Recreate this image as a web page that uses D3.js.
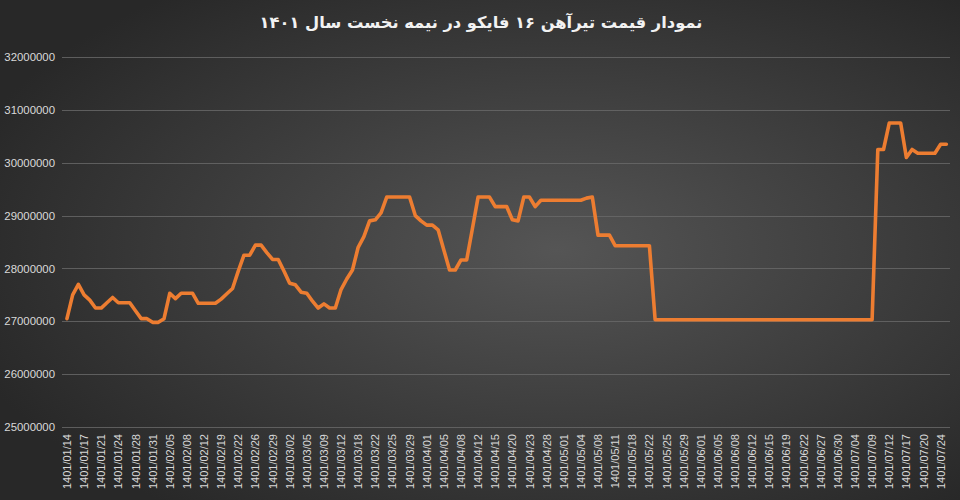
<!DOCTYPE html>
<html><head><meta charset="utf-8">
<script src="https://cdn.jsdelivr.net/npm/d3@7"></script>
<style>html,body{margin:0;padding:0;background:#2b2b2b;}svg{display:block;}</style>
</head><body>
<svg id="c" width="960" height="500"></svg>
<script>
const title = "نمودار قیمت تیرآهن ۱۶ فایکو در نیمه نخست سال ۱۴۰۱";
const tickLabels = ["1401/01/14","1401/01/17","1401/01/21","1401/01/24","1401/01/28","1401/01/31",
"1401/02/05","1401/02/08","1401/02/12","1401/02/19","1401/02/22","1401/02/26","1401/02/29",
"1401/03/02","1401/03/05","1401/03/09","1401/03/12","1401/03/18","1401/03/22","1401/03/25","1401/03/29",
"1401/04/01","1401/04/05","1401/04/08","1401/04/12","1401/04/15","1401/04/20","1401/04/23","1401/04/28",
"1401/05/01","1401/05/04","1401/05/08","1401/05/11","1401/05/18","1401/05/22","1401/05/25","1401/05/29",
"1401/06/01","1401/06/05","1401/06/08","1401/06/12","1401/06/15","1401/06/19","1401/06/22","1401/06/27","1401/06/30",
"1401/07/04","1401/07/09","1401/07/12","1401/07/17","1401/07/20","1401/07/24"];
const yTicks = [25000000,26000000,27000000,28000000,29000000,30000000,31000000,32000000];
const prices = [
27050000,27500000,27700000,27500000,27400000,27250000,27250000,27350000,27450000,27350000,
27350000,27350000,27200000,27050000,27050000,26980000,26980000,27050000,27530000,27430000,
27530000,27530000,27530000,27340000,27340000,27340000,27340000,27420000,27520000,27620000,
27950000,28250000,28250000,28440000,28440000,28300000,28170000,28170000,27950000,27720000,
27690000,27550000,27530000,27380000,27250000,27330000,27250000,27250000,27600000,27800000,
27970000,28400000,28600000,28900000,28920000,29050000,29350000,29350000,29350000,29350000,
29350000,29000000,28900000,28820000,28820000,28730000,28350000,27970000,27970000,28160000,
28160000,28750000,29350000,29350000,29350000,29170000,29170000,29170000,28920000,28900000,
29350000,29350000,29170000,29290000,29290000,29290000,29290000,29290000,29290000,29290000,
29290000,29330000,29350000,28630000,28630000,28630000,28430000,28430000,28430000,28430000,
28430000,28430000,28430000,27030000,27030000,27030000,27030000,27030000,27030000,27030000,
27030000,27030000,27030000,27030000,27030000,27030000,27030000,27030000,27030000,27030000,
27030000,27030000,27030000,27030000,27030000,27030000,27030000,27030000,27030000,27030000,
27030000,27030000,27030000,27030000,27030000,27030000,27030000,27030000,27030000,27030000,
27030000,27030000,30250000,30250000,30750000,30750000,30750000,30100000,30250000,30180000,
30180000,30180000,30180000,30350000,30350000];

const svg = d3.select("#c");
const W = 960, H = 500;
const defs = svg.append("defs");
const grad = defs.append("radialGradient").attr("id","bg")
  .attr("cx","58%").attr("cy","50%").attr("r","65%");
grad.append("stop").attr("offset","0%").attr("stop-color","#555555");
grad.append("stop").attr("offset","100%").attr("stop-color","#282828");
svg.append("rect").attr("width",W).attr("height",H).attr("fill","url(#bg)");

const x = d3.scalePoint().domain(d3.range(prices.length)).range([64.1, 949.2]).padding(0.5);
const y = d3.scaleLinear().domain([25000000, 32000000]).range([427, 57]);

// gridlines
svg.append("g").selectAll("line").data(yTicks).join("line")
  .attr("x1", 62).attr("x2", 950)
  .attr("y1", d => Math.round(y(d)) + 0.5).attr("y2", d => Math.round(y(d)) + 0.5)
  .attr("stroke", "#6a6a6a").attr("stroke-width", 1).attr("opacity", 0.8);

// y axis labels
const yAxis = d3.axisLeft(y).tickValues(yTicks).tickSize(0).tickPadding(0).tickFormat(d3.format("d"));
const gy = svg.append("g").attr("transform","translate(55,0)").call(yAxis);
gy.select(".domain").remove();
gy.selectAll("text").attr("fill","#d9d9d9").attr("font-family","Liberation Sans, Arial, sans-serif").attr("font-size","11.4px");

// x axis labels
const xTickVals = d3.range(0, prices.length, 3);
const xAxis = d3.axisBottom(x).tickValues(xTickVals).tickSize(0).tickPadding(0)
  .tickFormat(d => tickLabels[d / 3]);
const gx = svg.append("g").attr("transform","translate(0,434)").call(xAxis);
gx.select(".domain").remove();
gx.selectAll(".tick text")
  .attr("fill","#d9d9d9").attr("font-family","Liberation Sans, Arial, sans-serif").attr("font-size","11px")
  .attr("transform","rotate(-90)").attr("text-anchor","end")
  .attr("x", 0).attr("y", 0).attr("dy","0.32em");

// line
const line = d3.line().x((d,i) => x(i)).y(d => y(d));
svg.append("path").datum(prices).attr("d", line)
  .attr("fill","none").attr("stroke","#ED7D31").attr("stroke-width",3.6)
  .attr("stroke-linejoin","round").attr("stroke-linecap","round");

// title
svg.append("text").attr("x", 481).attr("y", 28).attr("text-anchor","middle")
  .attr("direction","rtl")
  .attr("fill","#f2f2f2").attr("font-family","DejaVu Sans, Noto Sans, sans-serif")
  .attr("font-size","16.3px").attr("font-weight","bold").text(title);
</script>
</body></html>
